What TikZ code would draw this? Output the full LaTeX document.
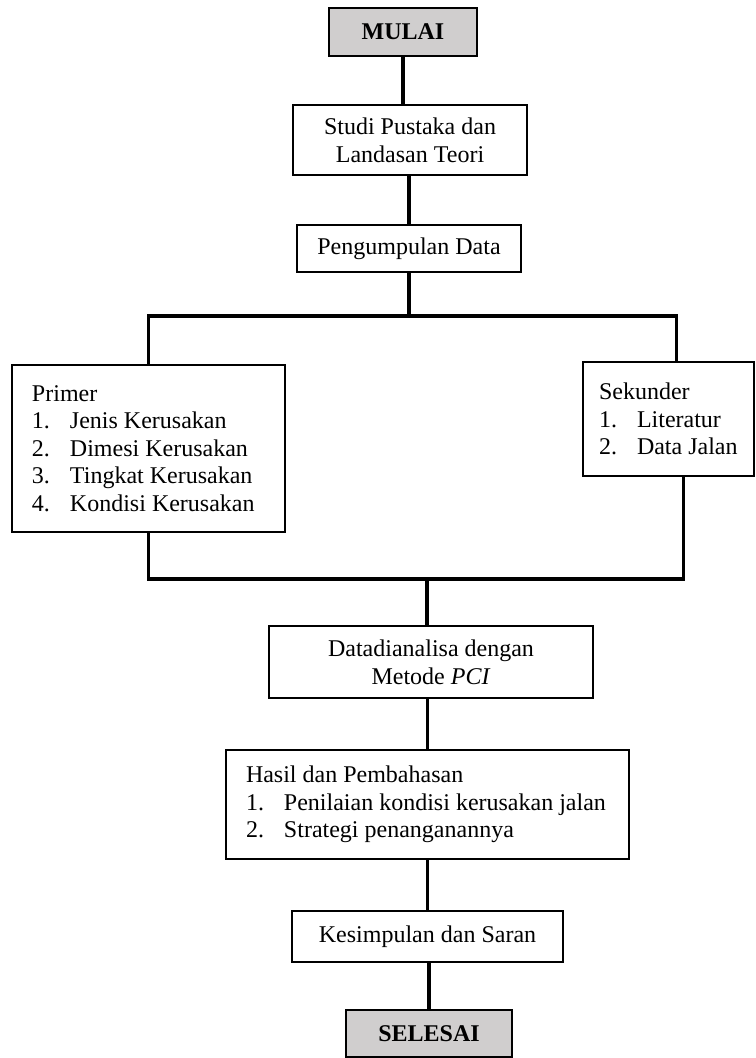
\documentclass[tikz,border=0pt]{standalone}
\usepackage{fontspec}
\setmainfont{Liberation Serif}
\definecolor{boxgray}{RGB}{208,206,206}
\newcommand{\numitem}[2]{\mbox{\makebox[19pt][l]{#1}#2}}
\newcommand{\plainsp}{\spaceskip=0pt\xspaceskip=0pt\relax}
\tikzset{
	stepbox/.style={draw, line width=0.6pt, align=center, inner sep=0pt,
		font=\fontsize{12}{13.8}\selectfont},
	endbox/.style={stepbox, fill=boxgray, font=\fontsize{12}{13.8}\selectfont\bfseries},
	listbox/.style={draw, line width=0.6pt, align=left, inner ysep=0pt,
		font=\fontsize{12}{13.8}\selectfont},
	conn/.style={line width=1.6pt},
}
\begin{document}
\begin{tikzpicture}[x=0.5pt, y=-0.5pt]
	\useasboundingbox (0,0) rectangle (755,1058);
	% start and preparation
	\node[endbox, minimum width=74pt, minimum height=24pt] (mulai) at (403,32) {MULAI};
	\node[stepbox, minimum width=117pt, minimum height=35pt] (studi) at (410,140)
		{Studi Pustaka dan\\Landasan Teori};
	\node[stepbox, minimum width=112pt, minimum height=23.5pt] (kumpul) at (409,248.5)
		{Pengumpulan Data};
	% data sources
	\node[listbox, inner xsep=10pt, text width=116.5pt, minimum height=83.5pt] (primer) at (148.5,448.5)
		{\plainsp Primer\\\numitem{1.}{Jenis Kerusakan}\\\numitem{2.}{Dimesi Kerusakan}\\
		\numitem{3.}{Tingkat Kerusakan}\\\numitem{4.}{Kondisi Kerusakan}};
	\node[listbox, inner xsep=8pt, text width=69.5pt, minimum height=57pt] (sekunder) at (668.5,419)
		{\plainsp Sekunder\\\numitem{1.}{Literatur}\\\numitem{2.}{Data Jalan}};
	% analysis and result
	\node[stepbox, minimum width=162pt, minimum height=36pt] (analisa) at (431,662)
		{Datadianalisa dengan\\Metode \textit{PCI}};
	\node[listbox, inner xsep=10pt, text width=181.5pt, minimum height=54.5pt] (hasil) at (427.5,804.5)
		{\plainsp Hasil dan Pembahasan\\\numitem{1.}{Penilaian kondisi kerusakan jalan}\\
		\numitem{2.}{Strategi penanganannya}};
	\node[stepbox, minimum width=135.5pt, minimum height=25.5pt] (simpul) at (427.5,936.5)
		{Kesimpulan dan Saran};
	\node[endbox, minimum width=83pt, minimum height=23.5pt] (selesai) at (429,1033.5) {SELESAI};
	% branch points
	\coordinate (split) at (409,316);
	\coordinate (join) at (427,579);
	\draw[conn] (mulai.south) -- (mulai.south |- studi.north);
	\draw[conn] (kumpul.north |- studi.south) -- (kumpul.north);
	\draw[conn] (kumpul.south) -- (split);
	\draw[conn] (primer.north) -- (primer.north |- split) -| ([xshift=4pt]sekunder.north);
	\draw[conn] (primer.south) -- (primer.south |- join) -| ([xshift=7.5pt]sekunder.south);
	\draw[conn] (join) -- (join |- analisa.north);
	\draw[conn] (hasil.north |- analisa.south) -- (hasil.north);
	\draw[conn] (hasil.south) -- (hasil.south |- simpul.north);
	\draw[conn] (selesai.north |- simpul.south) -- (selesai.north);
\end{tikzpicture}
\end{document}
